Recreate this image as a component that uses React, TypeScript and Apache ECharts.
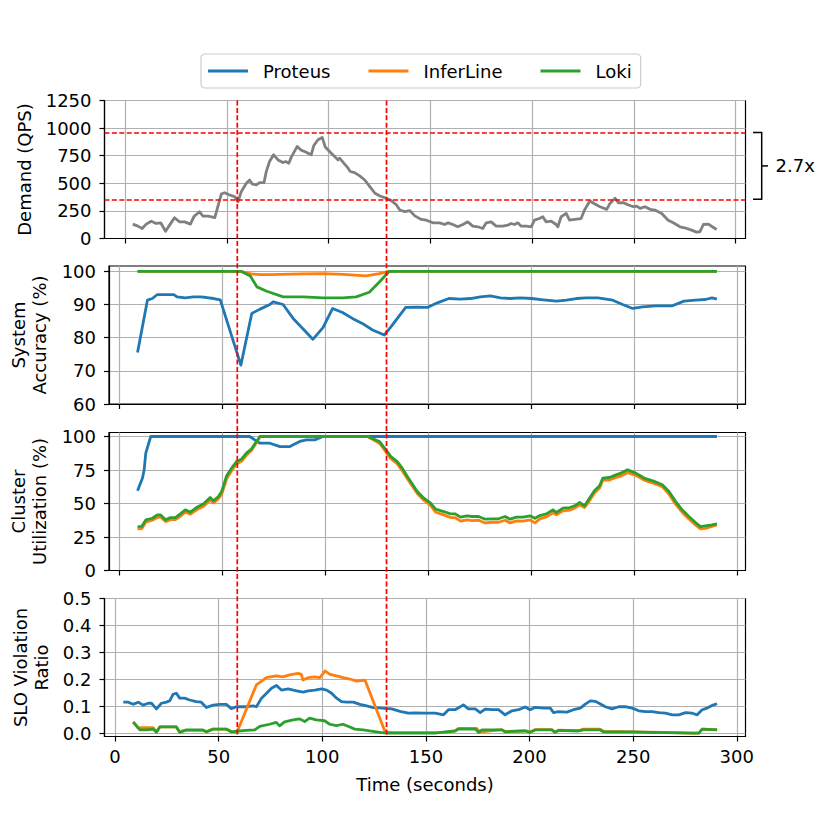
import React, { useEffect, useRef } from "react";
import * as echarts from "echarts";

// ---------- ticks ----------
const xTicks = [0, 50, 100, 150, 200, 250, 300];
const demandTicks = [0, 250, 500, 750, 1000, 1250];
const accTicks = [60, 70, 80, 90, 100];
const utilTicks = [0, 25, 50, 75, 100];
const sloTicks = [0, 0.1, 0.2, 0.3, 0.4, 0.5];

// ---------- annotations ----------
const burstStart = 59;
const burstEnd = 131;
const demandLow = 355;
const demandHigh = 960;
const ratioLabel = "2.7x";

// ---------- demand ----------
const demandT = [3.7, 6.2, 8.3, 10.3, 12.8, 15.2, 17.4, 19.8, 22.1, 24.2, 26.7, 29.2, 32, 33.8, 36.5, 38.2, 40.7, 44, 47.2, 48.8, 51.3, 53.8, 55.4, 57, 59.5, 61.1, 62.4, 64.4, 66, 68.2, 69.3, 70.9, 72.9, 75.1, 77.5, 78.8, 80.4, 81.6, 84.5, 86.2, 88.1, 91.4, 92.6, 94.7, 96.8, 98.3, 100.4, 102.9, 104.5, 105.3, 109.5, 110.6, 112.7, 115.2, 117.7, 120.2, 122.7, 125.2, 128.3, 130.8, 133.3, 134.9, 137.4, 139.9, 142.3, 145.5, 148, 151.2, 154.5, 157, 158.6, 161, 163.4, 165.9, 168.3, 170.8, 173.3, 175.7, 177.4, 179.8, 182.3, 185.5, 188, 189.6, 191.3, 192.9, 194.5, 197, 199.5, 201.1, 203.5, 205.2, 206.8, 209.3, 211.7, 212.6, 214.2, 216.7, 218.3, 220.8, 224, 225.7, 228.3, 230.8, 233.3, 236.6, 238.2, 240.7, 242.3, 244.8, 247.3, 249.7, 251.3, 253, 255.4, 257.9, 260.3, 263.6, 266.8, 269.3, 272.6, 275.9, 278.3, 280.8, 282.4, 284.1, 286.5, 288.5, 290.6];
const demandQps = [130, 112, 91, 130, 157, 136, 142, 66, 130, 188, 151, 151, 130, 200, 242, 203, 203, 190, 403, 415, 394, 379, 333, 424, 500, 530, 494, 485, 506, 506, 606, 697, 758, 712, 688, 697, 682, 737, 834, 803, 788, 758, 840, 894, 916, 828, 788, 743, 712, 728, 637, 607, 597, 567, 530, 470, 410, 385, 364, 343, 303, 258, 243, 252, 205, 173, 166, 142, 142, 127, 142, 127, 106, 127, 151, 112, 106, 91, 142, 151, 112, 112, 121, 136, 127, 142, 112, 112, 106, 166, 181, 197, 151, 157, 127, 106, 197, 227, 166, 173, 181, 258, 340, 312, 288, 264, 318, 364, 324, 324, 303, 288, 294, 273, 288, 264, 258, 227, 166, 142, 106, 91, 76, 58, 61, 127, 130, 106, 82];

// ---------- accuracy ----------
const accProteusT = [8.8, 13.6, 16, 18.4, 21.6, 26.4, 28, 32, 36, 39.2, 42.4, 45.8, 49, 59, 64.3, 68.3, 73.1, 74.7, 79.5, 84.4, 94, 98.9, 103.6, 108.4, 113.2, 118, 123, 128.7, 132, 139.1, 144.7, 149.6, 154.5, 160.1, 165.7, 170.6, 175.4, 180.2, 185.1, 189.9, 194.7, 200.3, 205.9, 212.4, 217.2, 222, 226.9, 232.5, 239.7, 244.5, 249.4, 254.2, 260.6, 268.7, 274.3, 279.9, 284.7, 287.9, 290.3];
const accProteus = [75.5, 91.3, 91.8, 93, 93, 93, 92.3, 92, 92.3, 92.3, 92.1, 91.8, 91.4, 71.7, 87.3, 88.6, 90, 90.8, 90, 85.8, 79.5, 83, 88.8, 87.6, 85.8, 84.3, 82.3, 80.8, 83.3, 89.1, 89.2, 89.1, 90.5, 91.8, 91.6, 91.8, 92.3, 92.6, 92, 91.8, 92, 91.8, 91.4, 91, 91.3, 91.8, 92, 92, 91.3, 90, 88.8, 89.3, 89.6, 89.6, 91, 91.3, 91.5, 92, 91.6];
const accInferLineT = [8.8, 59, 64, 68.3, 73.1, 89.3, 98.9, 108.6, 119.9, 126.3, 131.1, 290.3];
const accInferLine = [100, 100, 99.2, 99, 99, 99.2, 99.3, 99.1, 98.6, 99.3, 100, 100];
const accLokiT = [8.8, 59, 63.6, 66.8, 71.6, 79.6, 89.3, 98.9, 108.6, 115, 121.4, 126.3, 131.1, 290.3];
const accLoki = [100, 100, 98.6, 95.3, 94, 92.3, 92.3, 92, 92, 92.3, 93.7, 96.8, 100, 100];

// ---------- utilization ----------
const utilProteusT = [8.8, 11.2, 12, 12.8, 15.2, 63.3, 68.3, 73.1, 78, 82.8, 87.6, 90.9, 94.9, 98.9, 290.3];
const utilProteus = [59.5, 69, 75, 87.6, 100, 100, 95, 95, 92.5, 92.5, 96.3, 97.5, 97.5, 100, 100];
const utilT = [8.8, 10.9, 12.8, 16, 18.4, 20, 22.4, 24.8, 27.2, 29.6, 32, 34.5, 37.7, 40.9, 44.1, 45.7, 48.1, 49.7, 52.1, 54.5, 56.9, 59.3, 61.7, 64.1, 66.6, 68.3, 120.6, 126.3, 129.5, 131.9, 135, 137.4, 139.9, 144.7, 147.9, 151.2, 153.6, 157.6, 160.8, 163.2, 165.7, 168.9, 171.3, 174.5, 177.7, 180.9, 184.2, 187.4, 189.8, 193, 196.2, 199.5, 201.9, 204.3, 207.5, 210.7, 212.3, 215.5, 218.8, 221.2, 223.6, 226, 228.4, 230.9, 233.3, 234.9, 238.1, 241.3, 243.7, 246.9, 250.9, 254.9, 259.8, 263.8, 267, 270.2, 273.4, 276.7, 279.9, 282.3, 284.7, 287.9, 290.3];
const utilLoki = [32.8, 33, 37.8, 39, 41.5, 41.5, 37.8, 39.5, 39.5, 42.3, 45.3, 43.5, 47.3, 49.8, 54.5, 52, 55.2, 59, 70.7, 76.4, 81.3, 83.1, 87.6, 90.6, 96.3, 100, 100, 96.3, 90, 85, 81.3, 76.4, 70.1, 59, 54, 50.3, 45.8, 44, 42.3, 42.3, 39.8, 40.8, 40.3, 40.3, 38.3, 38.6, 38.6, 40.3, 38.3, 39.8, 39.8, 40.8, 39, 41, 42.3, 45.3, 43.3, 46.5, 47, 48.3, 50.8, 48.3, 54, 59.7, 63.2, 69, 69.4, 71.4, 72.7, 75.1, 72.7, 69, 66.5, 64, 59, 51.6, 45.3, 40.3, 35.8, 32.8, 33.3, 34, 34.8];
const utilInferLine = [31, 31.3, 36, 37.5, 39.5, 40, 36.5, 38, 38, 40.5, 43.5, 42, 45.5, 48, 52.5, 50.5, 53.5, 57, 68.5, 74.5, 79.5, 81.5, 86, 89.5, 95.5, 100, 100, 95, 88.5, 83.5, 79.5, 74.5, 68.5, 57.5, 52.5, 48.5, 43.5, 41.5, 39.5, 39.5, 36.8, 37.8, 37.3, 37.5, 35.5, 36, 36, 37.5, 35.5, 37, 36.8, 37.8, 35.5, 38.5, 40, 43, 41.5, 44.5, 45, 46.5, 49, 47, 52, 58, 61.5, 67.5, 67.5, 69.5, 70.5, 73, 71, 67.5, 65, 62.5, 57, 49.5, 43.5, 38.5, 34, 31, 31.5, 33, 34];

// ---------- SLO violation ----------
const sloProteusT = [4, 6.4, 8.8, 11.2, 13.6, 16, 17.6, 20, 22.4, 24.8, 26.4, 28, 29.6, 31.2, 33.6, 36, 39.2, 41.6, 44.1, 47.3, 50.5, 53.7, 56.1, 58.5, 63.3, 66.6, 68.2, 70.7, 73.1, 75.5, 77.9, 80.3, 83.5, 87.6, 90.8, 93.2, 96.4, 99.7, 102.1, 104.5, 106.9, 109.3, 111.7, 114.9, 118.2, 121.4, 124.6, 128.7, 133.5, 137.5, 141.5, 144.7, 149.6, 154.5, 158.5, 160.9, 164.1, 168.1, 170.5, 173.8, 176.2, 178.6, 181.8, 185, 188.2, 191.5, 194.7, 197.9, 200.3, 202.7, 206.8, 210, 211.6, 214, 218, 221.2, 224.5, 226.9, 229.3, 231.7, 234.2, 236.6, 239.8, 243, 246.2, 249.5, 252.7, 255.9, 259.1, 262.4, 265.6, 268.8, 272, 275.3, 278.5, 280.9, 283.3, 285.7, 288.1, 290.5];
const sloProteus = [0.115, 0.115, 0.107, 0.115, 0.104, 0.111, 0.111, 0.09, 0.111, 0.115, 0.12, 0.144, 0.148, 0.13, 0.13, 0.123, 0.117, 0.115, 0.095, 0.104, 0.107, 0.107, 0.091, 0.098, 0.098, 0.101, 0.098, 0.13, 0.148, 0.167, 0.177, 0.16, 0.164, 0.157, 0.152, 0.157, 0.16, 0.164, 0.16, 0.148, 0.13, 0.117, 0.115, 0.115, 0.107, 0.101, 0.095, 0.093, 0.09, 0.081, 0.074, 0.075, 0.074, 0.074, 0.068, 0.087, 0.087, 0.105, 0.09, 0.09, 0.076, 0.089, 0.087, 0.087, 0.068, 0.083, 0.087, 0.097, 0.087, 0.096, 0.093, 0.093, 0.076, 0.08, 0.078, 0.087, 0.093, 0.108, 0.12, 0.118, 0.108, 0.098, 0.09, 0.098, 0.098, 0.093, 0.083, 0.08, 0.08, 0.076, 0.074, 0.068, 0.068, 0.076, 0.074, 0.068, 0.087, 0.093, 0.103, 0.109];
const sloInferLineT = [8.8, 11.2, 15.2, 18.4, 20, 21.6, 24.8, 29.6, 31.2, 33.6, 37.6, 42.4, 44.1, 47.3, 53.7, 56.1, 58.8, 61.7, 64.9, 68.2, 71.4, 73, 77.8, 81, 84.3, 88.3, 89.9, 90.7, 93.2, 96.4, 98.8, 100.5, 101.3, 103.7, 106.9, 110.1, 113.3, 116.6, 120.6, 130.3, 133.5, 160, 164, 165.7, 174.5, 176, 186.6, 188.2, 197.9, 200.3, 202.7, 210.7, 212.3, 214, 223.6, 226, 234, 235.7, 250, 265, 278.4, 281.7, 283.3, 290.5];
const sloInferLine = [0.043, 0.02, 0.02, 0.02, 0.005, 0.023, 0.023, 0.023, 0.005, 0.01, 0.01, 0.01, 0.005, 0.015, 0.015, 0.005, 0.003, 0.056, 0.117, 0.179, 0.197, 0.206, 0.213, 0.209, 0.216, 0.222, 0.218, 0.197, 0.206, 0.209, 0.206, 0.222, 0.231, 0.218, 0.213, 0.206, 0.201, 0.193, 0.197, 0.005, 0.002, 0.003, 0.008, 0.018, 0.018, 0.004, 0.013, 0.006, 0.009, 0.004, 0.013, 0.013, 0.004, 0.011, 0.009, 0.015, 0.015, 0.006, 0.005, 0.003, 0, 0, 0.015, 0.013];
const sloLokiT = [8.8, 12, 15.2, 18.4, 20, 21.6, 24.8, 29.6, 31.2, 34.4, 42.4, 44.1, 47.3, 53.7, 56.1, 58.8, 63.3, 67.4, 69.8, 74.6, 77.8, 79.4, 81.8, 85.9, 89.1, 91.5, 93.9, 97.1, 101.1, 103.6, 106.8, 110, 113.3, 115.7, 119.7, 122.9, 127.7, 130.9, 154.5, 159.3, 164.1, 165.7, 173.8, 175.4, 177, 186.6, 188.2, 197.9, 200.3, 202.7, 210.7, 212.3, 214, 223.6, 226, 234, 235.7, 249.4, 257.5, 278.4, 281.7, 283.3, 290.5];
const sloLoki = [0.04, 0.012, 0.012, 0.015, 0.003, 0.023, 0.023, 0.023, 0.003, 0.012, 0.012, 0.005, 0.015, 0.015, 0.005, 0.007, 0.01, 0.012, 0.025, 0.033, 0.04, 0.027, 0.042, 0.049, 0.053, 0.043, 0.056, 0.049, 0.046, 0.033, 0.028, 0.033, 0.023, 0.015, 0.012, 0.008, 0.003, 0, 0, 0.005, 0.008, 0.015, 0.015, 0.003, 0.012, 0.012, 0.005, 0.008, 0.003, 0.012, 0.012, 0.003, 0.01, 0.008, 0.012, 0.012, 0.005, 0.005, 0.003, 0, 0, 0.015, 0.012];

const COLORS = { Proteus: "#1f77b4", InferLine: "#ff7f0e", Loki: "#2ca02c", Demand: "#808080" };
const FONT = "DejaVu Sans";
const legendNames = ["Proteus", "InferLine", "Loki"];

const zip = (t: number[], v: number[]) => t.map((x, i) => [x, v[i]]);

export default function App() {
  const ref = useRef<HTMLDivElement>(null);
  useEffect(() => {
    if (!ref.current) return;
    const chart = echarts.init(ref.current, undefined, { renderer: "svg" });

    const gridLeft = 104.5;
    const gridWidth = 641;
    const gridTops = [100.5, 266, 432.5, 598.5];
    const gridH = 138;

    const xRanges = [
      [-10.2, 304.8],
      [-5.07, 304.2],
      [-5.07, 304.2],
      [-5.07, 304.2],
    ];
    const yCfg = [
      { min: 0, max: 1250, ticks: demandTicks, name: "Demand (QPS)", gap: 70, fmt: (v: number) => String(v) },
      { min: 60, max: 101.6, ticks: accTicks, name: "System\nAccuracy (%)", gap: 59, fmt: (v: number) => String(v) },
      { min: 0, max: 103, ticks: utilTicks, name: "Cluster\nUtilization (%)", gap: 59, fmt: (v: number) => String(v) },
      { min: -0.0125, max: 0.5, ticks: sloTicks, name: "SLO Violation\nRatio", gap: 52, fmt: (v: number) => v.toFixed(1) },
    ];

    const tickStyle = { show: true, inside: false, length: 5, lineStyle: { color: "#000", width: 1.2 } };
    const splitStyle = { show: true, lineStyle: { color: "#b0b0b0", width: 1.2 } };

    const grid = gridTops.map((top) => ({
      left: gridLeft,
      width: gridWidth,
      top,
      height: gridH,
      show: true,
      borderColor: "#000",
      borderWidth: 1.2,
      backgroundColor: "transparent",
    }));

    const xAxis = xRanges.map((r, i) => ({
      type: "value",
      gridIndex: i,
      min: r[0],
      max: r[1],
      axisLine: { show: true, onZero: false, lineStyle: { color: "#000", width: 1.2 } },
      axisTick: { ...tickStyle, customValues: xTicks },
      axisLabel: {
        show: i === 3,
        customValues: xTicks,
        fontSize: 18,
        color: "#000",
        fontFamily: FONT,
        margin: 11,
      },
      splitLine: splitStyle,
      name: i === 3 ? "Time (seconds)" : "",
      nameLocation: "middle",
      nameGap: 39,
      nameTextStyle: { fontSize: 18, color: "#000", fontFamily: FONT },
    }));

    const yAxis = yCfg.map((c, i) => ({
      type: "value",
      gridIndex: i,
      min: c.min,
      max: c.max,
      axisLine: { show: true, onZero: false, lineStyle: { color: "#000", width: 1.2 } },
      axisTick: { ...tickStyle, customValues: c.ticks },
      axisLabel: {
        customValues: c.ticks,
        fontSize: 18,
        color: "#000",
        fontFamily: FONT,
        margin: 13,
        formatter: c.fmt,
      },
      splitLine: splitStyle,
      name: c.name,
      nameLocation: "middle",
      nameRotate: 90,
      nameGap: c.gap,
      nameTextStyle: { fontSize: 18, color: "#000", fontFamily: FONT, lineHeight: 21 },
    }));

    const line = (name: string, idx: number, t: number[], v: number[], extra: any = {}) => ({
      type: "line",
      name,
      xAxisIndex: idx,
      yAxisIndex: idx,
      data: zip(t, v),
      symbol: "none",
      showSymbol: false,
      silent: true,
      color: (COLORS as any)[name],
      lineStyle: { width: 2.8, color: (COLORS as any)[name], join: "round" },
      ...extra,
    });

    const redDash = { color: "#ff0000", width: 1.7, type: [5, 2.4] };

    const series = [
      line("Demand", 0, demandT, demandQps, {
        markLine: {
          silent: true,
          symbol: "none",
          label: { show: false },
          lineStyle: redDash,
          z: 10,
          data: [{ yAxis: demandHigh }, { yAxis: demandLow }],
        },
      }),
      line("Proteus", 1, accProteusT, accProteus),
      line("InferLine", 1, accInferLineT, accInferLine),
      line("Loki", 1, accLokiT, accLoki),
      line("Proteus", 2, utilProteusT, utilProteus),
      line("InferLine", 2, utilT, utilInferLine),
      line("Loki", 2, utilT, utilLoki),
      line("Proteus", 3, sloProteusT, sloProteus),
      line("InferLine", 3, sloInferLineT, sloInferLine),
      line("Loki", 3, sloLokiT, sloLoki),
    ];

    chart.setOption({
      animation: false,
      textStyle: { fontFamily: FONT },
      legend: {
        data: legendNames.map((n) => ({ name: n, icon: "rect", itemStyle: { color: (COLORS as any)[n] } })),
        left: 201,
        top: 54,
        orient: "horizontal",
        itemWidth: 40,
        itemHeight: 3,
        itemGap: 38,
        padding: [7, 9, 7, 7],
        borderColor: "#cccccc",
        borderWidth: 1.2,
        borderRadius: 4,
        backgroundColor: "#fff",
        selectedMode: false,
        textStyle: { fontSize: 18, color: "#000", fontFamily: FONT, padding: [0, 0, 0, 10], lineHeight: 20 },
      },
      grid,
      xAxis,
      yAxis,
      series,
    });

    // figure-level annotations, positioned through the axes
    const xs = [burstStart, burstEnd].map((v) => chart.convertToPixel({ xAxisIndex: 3 }, v) as number);
    const yTop = chart.convertToPixel({ yAxisIndex: 0 }, 1250) as number;
    const yBot = chart.convertToPixel({ yAxisIndex: 3 }, -0.0125) as number;
    const yHi = chart.convertToPixel({ yAxisIndex: 0 }, demandHigh) as number;
    const yLo = chart.convertToPixel({ yAxisIndex: 0 }, demandLow) as number;
    const xRight = chart.convertToPixel({ xAxisIndex: 0 }, xRanges[0][1]) as number;
    const yMid = (yHi + yLo) / 2;
    const bx = xRight + 16.2;

    chart.setOption({
      graphic: [
        ...xs.map((x) => ({
          type: "line",
          silent: true,
          z: 100,
          shape: { x1: x, y1: yTop, x2: x, y2: yBot },
          style: { stroke: "#ff0000", lineWidth: 1.7, lineDash: [5, 2.4] },
        })),
        {
          type: "polyline",
          silent: true,
          z: 100,
          shape: {
            points: [
              [xRight + 7.5, yHi],
              [bx, yHi],
              [bx, yLo],
              [xRight + 7.5, yLo],
            ],
          },
          style: { stroke: "#000", lineWidth: 1.5, fill: null },
        },
        {
          type: "line",
          silent: true,
          z: 100,
          shape: { x1: bx, y1: yMid, x2: xRight + 22.5, y2: yMid },
          style: { stroke: "#000", lineWidth: 1.5 },
        },
        {
          type: "text",
          silent: true,
          z: 100,
          x: xRight + 30,
          y: yMid,
          style: {
            text: ratioLabel,
            fontSize: 18,
            fontFamily: FONT,
            fill: "#000",
            verticalAlign: "middle",
            align: "left",
          },
        },
      ],
    });

    return () => chart.dispose();
  }, []);

  return (
    <div
      ref={ref}
      style={{ position: "fixed", left: 0, top: 0, width: 830, height: 829, background: "#fff" }}
    />
  );
}
